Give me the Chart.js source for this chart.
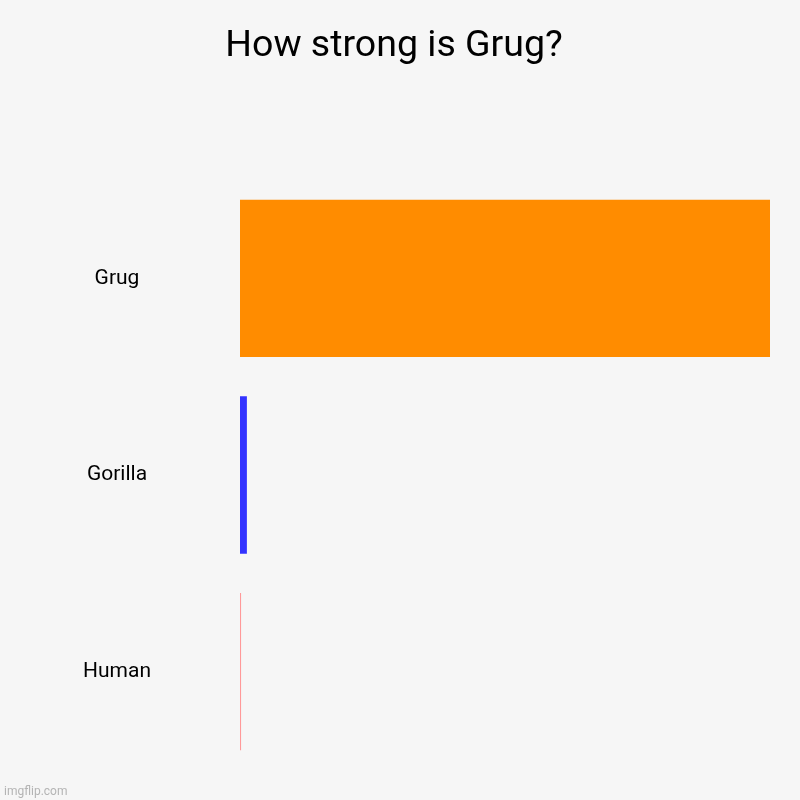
<!DOCTYPE html>
<html>
<head>
<meta charset="utf-8">
<script src="https://cdn.jsdelivr.net/npm/chart.js@4"></script>
<style>
  html, body { margin: 0; padding: 0; background: #f6f6f6; }
  #wrap { position: relative; width: 800px; height: 800px; }
  #watermark {
    position: absolute; left: 4px; bottom: 2px;
    font-family: Roboto, sans-serif; font-size: 12px; color: #b4b4b4;
  }
</style>
</head>
<body>
<div id="wrap">
  <canvas id="myChart" width="800" height="800"></canvas>
  <div id="watermark">imgflip.com</div>
</div>
<script>
// chart data
var categories = ['Grug', 'Gorilla', 'Human'];
var strength = [100, 1.3, 0.2];
var barColors = ['#ff8c00', '#3333ff', '#ff9999'];

var ctx = document.getElementById('myChart').getContext('2d');
var chart = new Chart(ctx, {
    type: 'bar',
    data: {
        labels: categories,
        datasets: [{
            data: strength,
            backgroundColor: barColors,
            borderWidth: 0,
            barPercentage: 0.8,
            categoryPercentage: 1.0
        }]
    },
    options: {
        indexAxis: 'y',
        responsive: false,
        animation: false,
        devicePixelRatio: 1,
        layout: { padding: { left: 18, right: 30, bottom: 30, top: 0 } },
        plugins: {
            legend: { display: false },
            tooltip: { enabled: false },
            title: {
                display: true,
                text: 'How strong is Grug?',
                color: '#000',
                font: { family: 'Roboto', size: 37.5, weight: 'normal' },
                padding: { top: 24, bottom: 111 }
            }
        },
        scales: {
            x: {
                display: false,
                min: 0,
                max: 100
            },
            y: {
                grid: { display: false, drawTicks: false },
                border: { display: false },
                afterFit: function(scale) {
                    // fixed label column, no extra vertical padding from the tick padding
                    scale.width = 222;
                    scale.paddingTop = 0;
                    scale.paddingBottom = 0;
                },
                ticks: {
                    crossAlign: 'center',
                    padding: 89,
                    color: '#000',
                    font: { family: 'Roboto', size: 21 }
                }
            }
        }
    }
});
</script>
</body>
</html>
